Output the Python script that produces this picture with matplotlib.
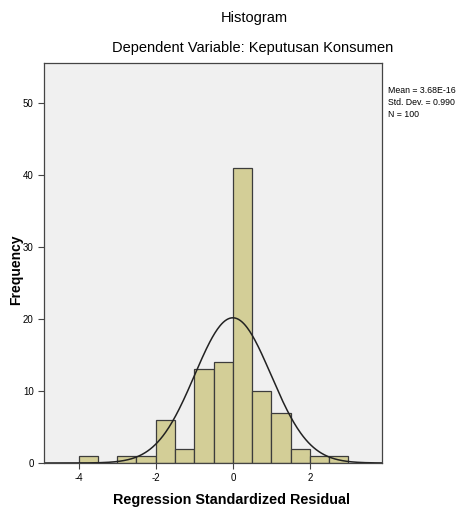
import numpy as np
import matplotlib
matplotlib.use("Agg")
import matplotlib.pyplot as plt

plt.rcParams['font.family'] = ['Liberation Sans', 'DejaVu Sans']
plt.rcParams['axes.unicode_minus'] = False

# histogram of regression standardized residuals (bin width 0.5)
bin_left = [-4.0, -3.5, -3.0, -2.5, -2.0, -1.5, -1.0, -0.5, 0.0, 0.5, 1.0, 1.5, 2.0, 2.5]
counts = [1, 0, 1, 1, 6, 2, 13, 14, 41, 10, 7, 2, 1, 1]
bin_width = 0.5

mean = 3.68e-16
std = 0.990
n = 100

xticks = [-4, -2, 0, 2]
yticks = [0, 10, 20, 30, 40, 50]

fig = plt.figure(figsize=(4.6, 5.15), dpi=100)
ax = fig.add_axes([44/460, 1 - 463/515, (382-44)/460, (463-63)/515])
ax.set_facecolor("#f0f0f0")

ax.bar(bin_left, counts, width=bin_width, align="edge",
       color="#d3ce97", edgecolor="#3c3c3c", linewidth=0.9)

xs = np.linspace(-4.9, 3.9, 400)
ys = n * bin_width / (std * np.sqrt(2 * np.pi)) * np.exp(-0.5 * ((xs - mean) / std) ** 2)
ax.plot(xs, ys, color="#222222", linewidth=1.1)

ax.set_xlim(-4.9, 3.87)
ax.set_ylim(0, 55.5)
ax.set_xticks(xticks)
ax.set_yticks(yticks)
ax.tick_params(labelsize=7, length=4, width=0.8, color="#444444", direction="out")
for s in ax.spines.values():
    s.set_color("#444444")
    s.set_linewidth(0.9)

fig.text(254/460, 1 - 18/515, "Histogram", ha="center", va="center", fontsize=10.5)
fig.text(253/460, 1 - 48/515, "Dependent Variable: Keputusan Konsumen",
         ha="center", va="center", fontsize=10.5)
fig.text(232/460, 1 - 500/515, "Regression Standardized Residual",
         ha="center", va="center", fontsize=10.4, fontweight="bold")
fig.text(16/460, 1 - 270/515, "Frequency", ha="center", va="center",
         rotation=90, fontsize=10, fontweight="bold")
fig.text(388/460, 1 - 86/515,
         "Mean = %.2fE-16\nStd. Dev. = %.3f\nN = %d" % (mean * 1e16, std, n),
         ha="left", va="top", fontsize=6.3, linespacing=1.45)

fig.savefig("out.png", dpi=100)
